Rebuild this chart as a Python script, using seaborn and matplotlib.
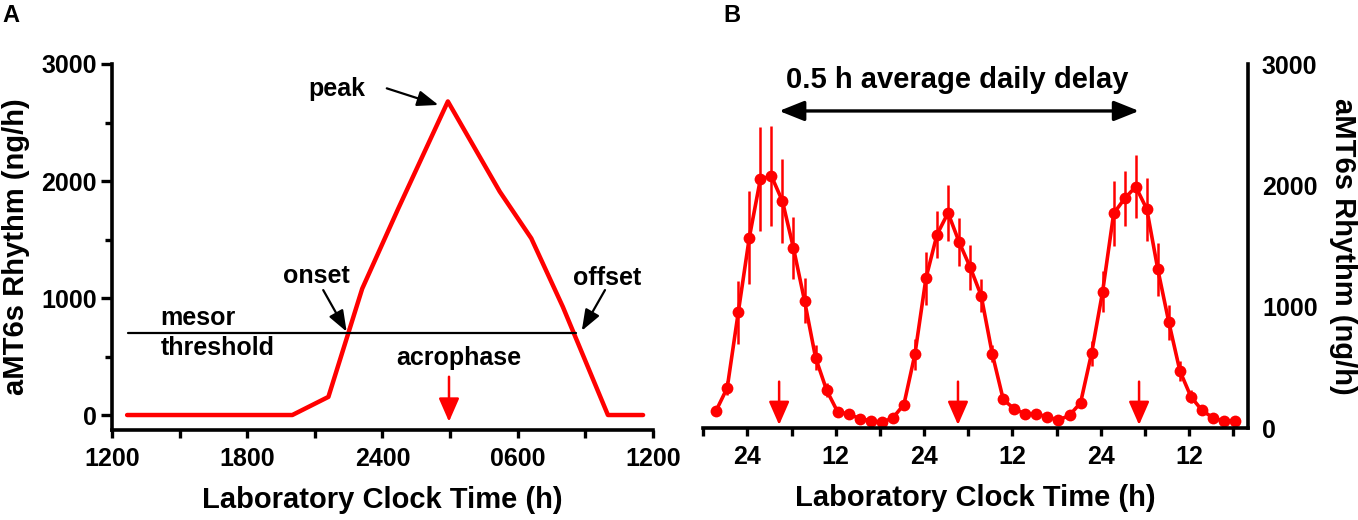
import matplotlib
matplotlib.use("Agg")
import matplotlib.pyplot as plt
import seaborn as sns

# panel A: schematic aMT6s profile (hours after 1200)
a_time = [0.67, 8.0, 9.6, 11.1, 12.7, 14.9, 17.2, 18.6, 20.0, 22.0, 23.56]
a_value = [0, 0, 155, 1080, 1765, 2680, 1910, 1510, 925, 0, 0]
a_mesor = 700
a_mesor_span = [0.7, 20.6]
a_acrophase = 14.95
a_xticks = [0, 6, 12, 18, 24]
a_xticklabels = ["1200", "1800", "2400", "0600", "1200"]

# panel B: three days of 1.5 h urine collections (hours after first midnight)
b_time = [-4.25, -2.75, -1.25, 0.25, 1.75, 3.25, 4.75, 6.25, 7.75, 9.25,
          10.75, 12.25, 13.75, 15.25, 16.75, 18.25, 19.75, 21.25, 22.75, 24.25,
          25.75, 27.25, 28.75, 30.25, 31.75, 33.25, 34.75, 36.25, 37.75, 39.25,
          40.75, 42.25, 43.75, 45.25, 46.75, 48.25, 49.75, 51.25, 52.75, 54.25,
          55.75, 57.25, 58.75, 60.25, 61.75, 63.25, 64.75, 66.25]
b_value = [144, 331, 953, 1569, 2050, 2077, 1870, 1483, 1050, 580, 312, 133, 116, 77, 61, 47,
           83, 193, 608, 1235, 1594, 1773, 1533, 1326, 1091, 613, 235, 157, 116, 116, 91, 64, 105,
           207, 616, 1124, 1768, 1892, 1989, 1804, 1307, 870, 470, 257, 146, 83, 55, 61]
b_err = [20, 60, 260, 385, 430, 415, 345, 255, 185, 100, 55, 20, 15, 10, 10, 8,
         10, 40, 127, 218, 193, 230, 196, 185, 133, 70, 30, 20, 15, 15, 10, 10, 15,
         30, 104, 168, 268, 230, 257, 260, 221, 144, 83, 55, 25, 15, 10, 10]
b_acrophase = [4.3, 28.6, 53.2]
b_xticks = [-6, 0, 6, 12, 18, 24, 30, 36, 42, 48, 54, 60, 66]
b_xticklabels = ["", "24", "", "12", "", "24", "", "12", "", "24", "", "12", ""]

y_major = [0, 1000, 2000, 3000]
y_minor = [500, 1500, 2500]

sns.set_style("ticks")
plt.rcParams["font.family"] = ["Liberation Sans", "DejaVu Sans"]
plt.rcParams["font.weight"] = "bold"
plt.rcParams["axes.labelweight"] = "bold"
for key in ["text.color", "axes.labelcolor", "axes.edgecolor", "xtick.color", "ytick.color"]:
  plt.rcParams[key] = "black"

TICK = 18
LAB = 21
ANN = 18
RED = "#ff0000"

fig = plt.figure(figsize=(13.58, 5.2), dpi=100)
axA = fig.add_axes([112 / 1358, 1 - 430 / 520, 541 / 1358, 366 / 520])
axB = fig.add_axes([703.3 / 1358, 1 - 428 / 520, 544.7 / 1358, 364 / 520])

def style_axis(ax):
  for s in ax.spines.values():
    s.set_linewidth(2.6)
  ax.tick_params(which="both", width=2.4, labelsize=TICK, colors="k")
  ax.tick_params(which="major", length=8)
  ax.tick_params(which="minor", length=5)
  for lab in ax.get_xticklabels() + ax.get_yticklabels():
    lab.set_fontweight("bold")

# ---- panel A
sns.lineplot(x=a_time, y=a_value, color=RED, lw=3.2, ax=axA)
axA.plot(a_mesor_span, [a_mesor, a_mesor], color="k", lw=1.6)
axA.set_xlim(0, 24)
axA.set_ylim(-128, 3000)
axA.set_xticks(a_xticks)
axA.set_xticklabels(a_xticklabels)
axA.set_xticks([3, 9, 15, 21], minor=True)
axA.set_yticks(y_major)
axA.set_yticks(y_minor, minor=True)
sns.despine(ax=axA)
style_axis(axA)
axA.tick_params(axis="x", which="both", length=6, pad=6)
axA.tick_params(axis="y", which="major", pad=3)
axA.set_xlabel("Laboratory Clock Time (h)", fontsize=LAB, labelpad=11)
axA.set_ylabel("aMT6s Rhythm (ng/h)", fontsize=LAB, labelpad=8)

blk = dict(arrowstyle="-|>,head_length=0.8,head_width=0.3", mutation_scale=16,
           color="k", lw=1.6, shrinkA=0, shrinkB=0)
axA.annotate("", xy=(10.41, 712), xytext=(9.37, 1068), arrowprops=blk)
axA.annotate("", xy=(20.84, 720), xytext=(21.87, 1068), arrowprops=blk)
axA.annotate("", xy=(14.48, 2650), xytext=(12.19, 2792), arrowprops=blk)
redarrow = dict(arrowstyle="-|>,head_length=0.8,head_width=0.35", mutation_scale=18,
                color=RED, lw=1.8, shrinkA=0, shrinkB=0)
axA.annotate("", xy=(a_acrophase, -57), xytext=(a_acrophase, 327), arrowprops=redarrow)
for txt, x, y in [("peak", 9.97, 2784), ("onset", 9.08, 1188), ("offset", 21.96, 1171),
                  ("acrophase", 15.37, 490), ("mesor", 3.79, 826), ("threshold", 4.71, 570)]:
  axA.text(x, y, txt, fontsize=ANN, fontweight="bold", ha="center", va="center")

# ---- panel B
axB.errorbar(b_time, b_value, yerr=b_err, fmt="none", ecolor=RED, elinewidth=1.8, capsize=0)
sns.lineplot(x=b_time, y=b_value, color=RED, lw=2.6, marker="o", markersize=8.5,
             markeredgewidth=0, ax=axB)
axB.set_xlim(-6, 68)
axB.set_ylim(0, 3000)
axB.set_xticks(b_xticks)
axB.set_xticklabels(b_xticklabels)
axB.yaxis.tick_right()
axB.yaxis.set_label_position("right")
axB.set_yticks(y_major)
axB.set_yticks(y_minor, minor=True)
sns.despine(ax=axB, left=True, right=False)
style_axis(axB)
axB.tick_params(axis="x", which="both", length=6, pad=6)
axB.tick_params(axis="y", which="major", pad=2)
axB.set_xlabel("Laboratory Clock Time (h)", fontsize=LAB, labelpad=11)
axB.set_ylabel("aMT6s Rhythm (ng/h)", fontsize=LAB, rotation=270, va="bottom", labelpad=8)

for t in b_acrophase:
  axB.annotate("", xy=(t, 25), xytext=(t, 382), arrowprops=redarrow)
axB.annotate("", xy=(b_acrophase[0], 2613), xytext=(b_acrophase[-1], 2613),
             arrowprops=dict(arrowstyle="<|-|>,head_length=0.8,head_width=0.32",
                             mutation_scale=19, color="k", lw=2.4, shrinkA=0, shrinkB=0))
axB.text(28.5, 2869, "0.5 h average daily delay", fontsize=21, fontweight="bold",
         ha="center", va="center")

fig.text(2 / 1358, 1 - 4 / 520, "A", fontsize=17, fontweight="bold", ha="left", va="top")
fig.text(723 / 1358, 1 - 4 / 520, "B", fontsize=17, fontweight="bold", ha="left", va="top")

fig.savefig("out.png", dpi=100)
